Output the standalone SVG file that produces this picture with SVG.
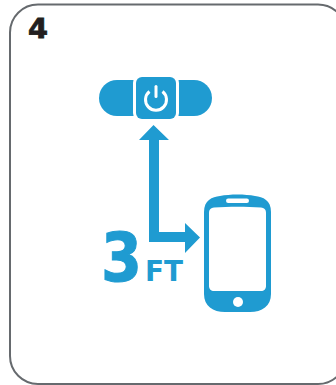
<svg xmlns="http://www.w3.org/2000/svg" width="336" height="385" viewBox="0 0 336 385">
<style>
.b{fill:#1f9bd1}
.w{fill:#fff}
.t{font-family:"DejaVu Sans",Verdana,sans-serif;font-weight:700}
.s{stroke:#1f9bd1;stroke-linejoin:miter}
</style>
<rect width="336" height="385" fill="#fff"/>
<g id="frame">
<rect x="10" y="4.500" width="336" height="379.500" rx="28" fill="#fff" stroke="#666a6e" stroke-width="2"/>
<text class="t" x="28" y="38" font-size="27" textLength="20" lengthAdjust="spacingAndGlyphs" fill="#231f20" stroke="#231f20" stroke-width="0.800">4</text>
</g>
<g id="button">
<rect class="b" x="99" y="80" width="113" height="36" rx="18"/>
<rect x="133" y="75" width="46" height="46" rx="8" fill="#fff"/>
<rect class="b" x="136" y="77" width="40" height="42" rx="6"/>
<path d="M149.500 91.500a10.500 10.500 0 1 0 13 0" fill="none" stroke="#fff" stroke-width="3"/>
<rect class="w" x="154.500" y="85" width="3" height="13" rx="1.500"/>
</g>
<g id="connectors">
<path class="b" d="M153.500 125L169 140H159V232H185V223L200 237.500L185 253V242H149V140H139Z"/>
</g>
<g id="distance-label">
<text class="t b s" x="101" y="281" font-size="67" stroke-width="1" textLength="41" lengthAdjust="spacingAndGlyphs">3</text>
<text class="t b" x="145" y="281" font-size="28" textLength="38" lengthAdjust="spacingAndGlyphs">FT</text>
</g>
<g id="phone">
<path class="b" d="M204 212C204 200 212 197 220 196C230 194 245 194 255 196C263 197 271 200 271 212V294C271 306 262 312 250 312H225C213 312 204 306 204 294Z"/>
<path class="w" d="M209 213C209 209 211 208 214 207.500C229 206.500 246 206.500 261 207.500C264 208 266 209 266 213V286C266 289 264 291 261 291H214C211 291 209 289 209 286Z"/>
<rect class="w" x="226" y="198.500" width="23" height="4.500" rx="2.200"/>
<circle class="w" cx="238" cy="302" r="5"/>
</g>
</svg>
